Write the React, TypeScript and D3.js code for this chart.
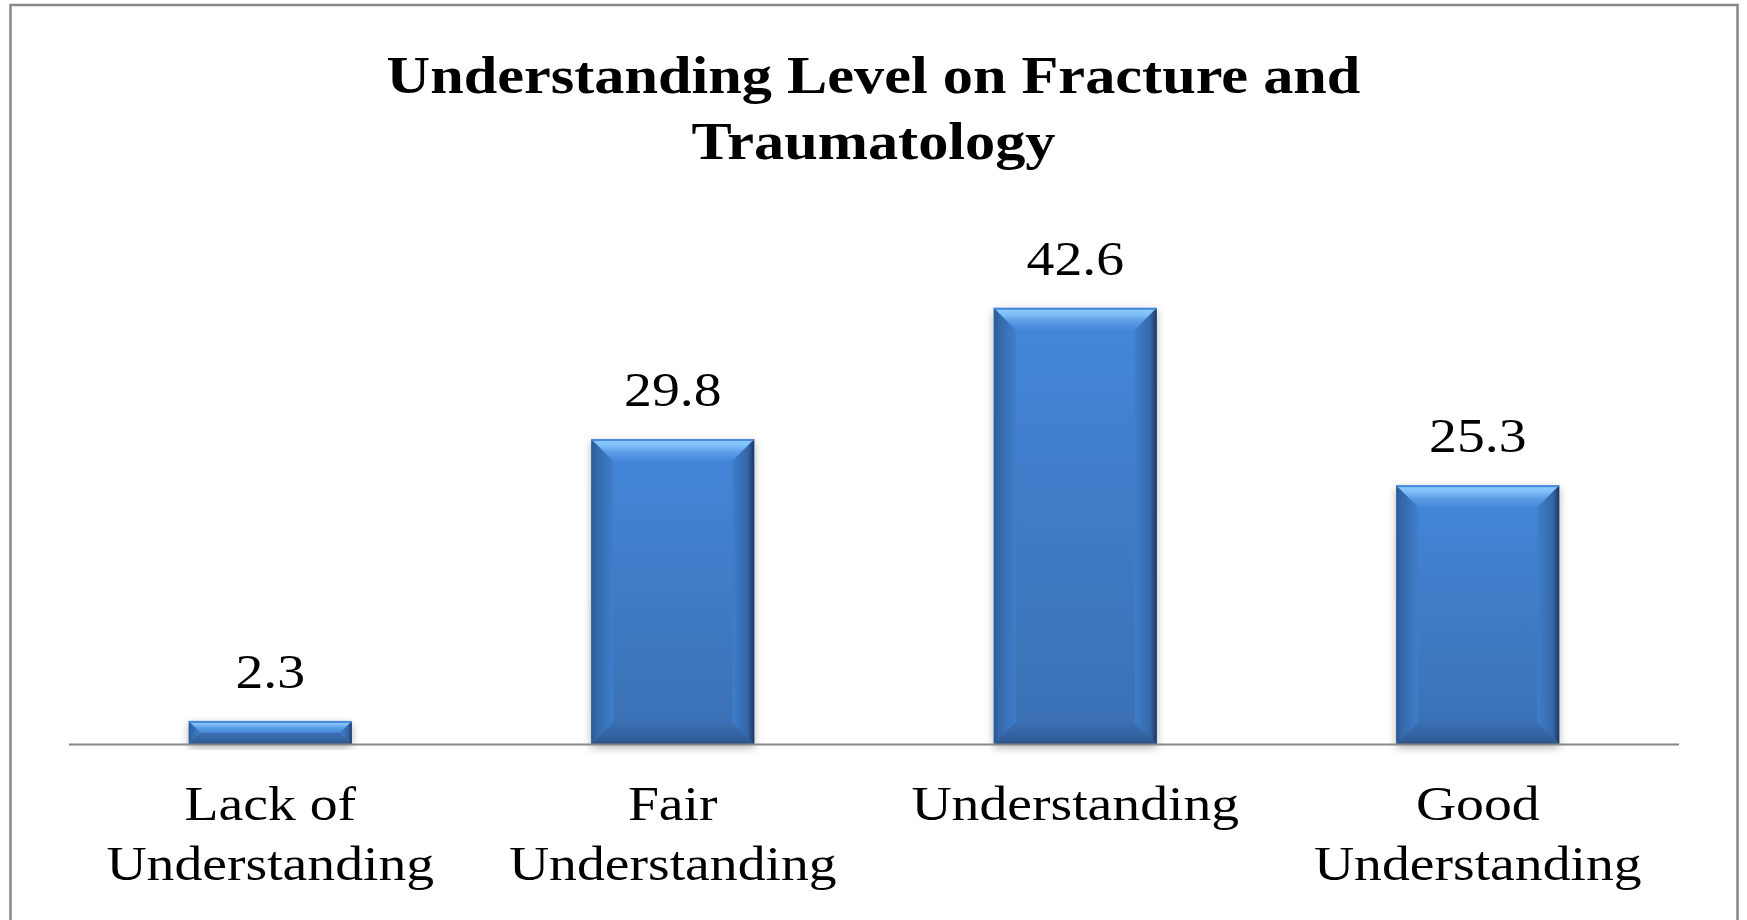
import React from "react"
import * as d3 from "d3"

// chart data
const categories = [
  ["Lack of", "Understanding"],
  ["Fair", "Understanding"],
  ["Understanding"],
  ["Good", "Understanding"],
]
const values = [2.3, 29.8, 42.6, 25.3]
const titleLines = ["Understanding Level on Fracture and", "Traumatology"]

const W = 1747
const H = 920
const marginLeft = 69
const marginRight = 68
const axisY = 744.5
const stretch = 1.16 // the source text is a bit wider than plain Times
const font = "'Liberation Serif', 'Times New Roman', serif"

const App = () => {
  const keys = categories.map((c) => c.join(" "))

  // x scale
  const x = d3.scaleBand<string>()
    .domain(keys)
    .range([marginLeft, W - marginRight])
    .paddingInner(0.595)
    .paddingOuter(0.2975)

  // y scale
  const y = d3.scaleLinear()
    .domain([0, 50])
    .range([axisY, axisY - 50 * 10.25])

  const bevel = 22

  return (
    <svg width={W} height={H} style={{ position: "absolute", left: 0, top: 0, background: "#fff" }}>
      <defs>
        <linearGradient id="face" x1="0" y1="0" x2="0" y2="1">
          <stop offset="0" stopColor="#4487da" />
          <stop offset="1" stopColor="#3a6fb2" />
        </linearGradient>
        <linearGradient id="topBevel" x1="0" y1="0" x2="0" y2="1">
          <stop offset="0" stopColor="#8fd0ff" />
          <stop offset="0.3" stopColor="#7fbef8" />
          <stop offset="0.6" stopColor="#5c9de6" />
          <stop offset="1" stopColor="#4587da" />
        </linearGradient>
        <linearGradient id="bottomBevel" x1="0" y1="0" x2="0" y2="1">
          <stop offset="0" stopColor="#3b70b3" />
          <stop offset="0.7" stopColor="#33609c" />
          <stop offset="1" stopColor="#2c5182" />
        </linearGradient>
        <linearGradient id="leftSide" x1="0" y1="0" x2="1" y2="0">
          <stop offset="0" stopColor="#2c5a94" />
          <stop offset="0.25" stopColor="#3468aa" />
          <stop offset="1" stopColor="#3f7ecb" />
        </linearGradient>
        <linearGradient id="rightSide" x1="0" y1="0" x2="1" y2="0">
          <stop offset="0" stopColor="#3f7ecb" />
          <stop offset="0.7" stopColor="#3467a8" />
          <stop offset="1" stopColor="#1d375e" />
        </linearGradient>
        <filter id="shadow" x="-20%" y="-20%" width="140%" height="140%">
          <feDropShadow dx="0" dy="3" stdDeviation="4" floodColor="#000" floodOpacity="0.3" />
        </filter>
      </defs>

      {/* chart border */}
      <rect x={10.5} y={5} width={1727} height={H + 20} fill="none" stroke="#888" strokeWidth={2.5} />

      {/* title */}
      {titleLines.map((t, i) => (
        <g key={t} transform={`translate(${W / 2},${93 + i * 66}) scale(${stretch},1)`}>
          <text textAnchor="middle" fontFamily={font} fontWeight="bold" fontSize={52} fill="#000">{t}</text>
        </g>
      ))}

      {/* bars */}
      {values.map((v, i) => {
        const x0 = x(keys[i])!
        const x1 = x0 + x.bandwidth()
        const y0 = y(v)
        const y1 = y(0)
        const b = Math.min(bevel, (y1 - y0) / 2)
        return (
          <g key={keys[i]}>
            <rect x={x0} y={y0} width={x1 - x0} height={y1 - y0} fill="url(#face)" filter="url(#shadow)" />
            <polygon points={`${x0},${y0} ${x0 + b},${y0 + b} ${x0 + b},${y1 - b} ${x0},${y1}`} fill="url(#leftSide)" />
            <polygon points={`${x1},${y0} ${x1 - b},${y0 + b} ${x1 - b},${y1 - b} ${x1},${y1}`} fill="url(#rightSide)" />
            <polygon points={`${x0},${y1} ${x1},${y1} ${x1 - b},${y1 - b} ${x0 + b},${y1 - b}`} fill="url(#bottomBevel)" />
            <polygon points={`${x0},${y0} ${x1},${y0} ${x1 - b},${y0 + b} ${x0 + b},${y0 + b}`} fill="url(#topBevel)" />
            <rect x={x0} y={y0} width={x1 - x0} height={2} fill="#4a88d8" />
          </g>
        )
      })}

      {/* axis line */}
      <line x1={marginLeft} x2={W - marginRight} y1={axisY} y2={axisY} stroke="#888" strokeWidth={2} />

      {/* value labels */}
      {values.map((v, i) => (
        <g key={"v" + i} transform={`translate(${x(keys[i])! + x.bandwidth() / 2},${y(v) - 33}) scale(${stretch},1)`}>
          <text textAnchor="middle" fontFamily={font} fontSize={48} fill="#000">{d3.format(".1f")(v)}</text>
        </g>
      ))}

      {/* category labels */}
      {categories.map((lines, i) =>
        lines.map((l, j) => (
          <g key={keys[i] + j} transform={`translate(${x(keys[i])! + x.bandwidth() / 2},${820 + j * 60}) scale(${stretch},1)`}>
            <text textAnchor="middle" fontFamily={font} fontSize={48} fill="#000">{l}</text>
          </g>
        ))
      )}
    </svg>
  )
}

export default App
